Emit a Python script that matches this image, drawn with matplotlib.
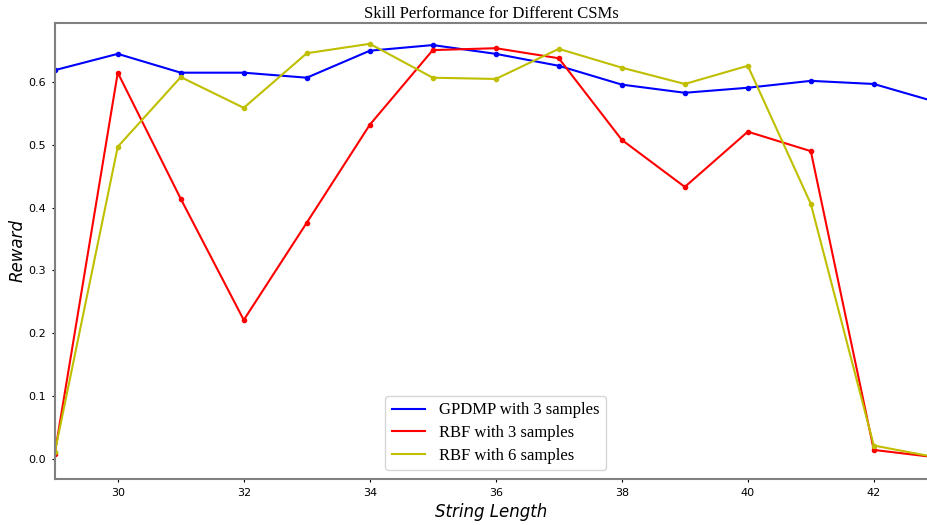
import matplotlib.pyplot as plt

x = [29, 30, 31, 32, 33, 34, 35, 36, 37, 38, 39, 40, 41, 42, 43]
gpdmp3 = [0.619, 0.645, 0.615, 0.615, 0.607, 0.650, 0.659, 0.645, 0.626, 0.596, 0.583, 0.591, 0.602, 0.597, 0.568]
rbf3 = [0.008, 0.615, 0.414, 0.221, 0.376, 0.532, 0.651, 0.654, 0.638, 0.508, 0.433, 0.521, 0.490, 0.014, 0.002]
rbf6 = [0.010, 0.497, 0.608, 0.559, 0.646, 0.661, 0.607, 0.605, 0.653, 0.623, 0.597, 0.626, 0.406, 0.021, 0.002]

fig = plt.figure(figsize=(9.28, 5.25), dpi=100)
ax = fig.add_axes([0.059, 0.088, 0.941, 0.868])

ax.plot(x, gpdmp3, color='b', linewidth=1.5, label='GPDMP with 3 samples')
ax.plot(x, rbf3, color='r', linewidth=1.5, label='RBF with 3 samples')
ax.plot(x, rbf6, color='y', linewidth=1.5, label='RBF with 6 samples')
# markers drawn separately so the legend shows plain lines
ax.plot(x, gpdmp3, 'o', color='b', markersize=3)
ax.plot(x, rbf3, 'o', color='r', markersize=3)
ax.plot(x, rbf6, 'o', color='y', markersize=3)

ax.set_xlim(29, 42.86)
ax.set_ylim(-0.032, 0.694)
ax.set_xticks([30, 32, 34, 36, 38, 40, 42])
ax.set_yticks([0.0, 0.1, 0.2, 0.3, 0.4, 0.5, 0.6])

for s in ['left', 'top', 'bottom']:
    ax.spines[s].set_color('grey')
    ax.spines[s].set_linewidth(1.5)
ax.spines['right'].set_visible(False)
ax.tick_params(labelsize=8, length=2.5, pad=4)

ax.set_title('Skill Performance for Different CSMs', fontfamily='Liberation Serif', fontsize=12, pad=4)
ax.set_xlabel('String Length', fontstyle='italic', fontsize=12)
ax.set_ylabel('Reward', fontstyle='italic', fontsize=12)
ax.yaxis.set_label_coords(-0.032, 0.5)

ax.legend(loc='lower center', bbox_to_anchor=(0.505, 0.0), labelspacing=0.4,
          prop={'family': 'Liberation Serif', 'size': 12})

fig.savefig('out.png')
